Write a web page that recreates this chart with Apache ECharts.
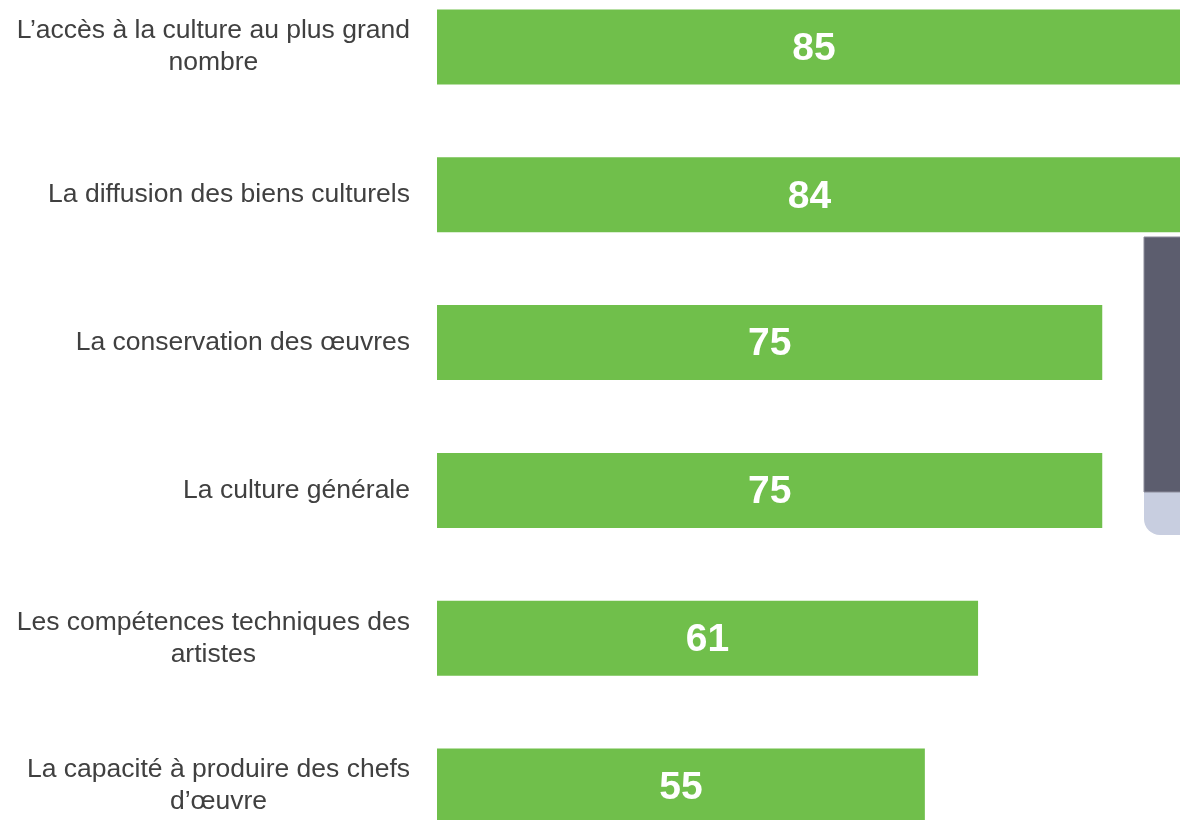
<!DOCTYPE html>
<html>
<head>
<meta charset="utf-8">
<script src="https://cdn.jsdelivr.net/npm/echarts@6/dist/echarts.min.js"></script>
<style>
  html, body { margin: 0; padding: 0; background: #fff; }
  #main { width: 1180px; height: 820px; }
</style>
</head>
<body>
<div id="main"></div>
<script>
// categories, top to bottom
var categories = [
    "L’accès à la culture au plus grand\nnombre",
    "La diffusion des biens culturels",
    "La conservation des œuvres",
    "La culture générale",
    "Les compétences techniques des\nartistes",
    "La capacité à produire des chefs\nd’œuvre"
];
var values = [85, 84, 75, 75, 61, 55];

var FONT = "'Liberation Sans', Arial, sans-serif";

var myChart = echarts.init(document.getElementById('main'));

var option = {
    backgroundColor: '#ffffff',
    animation: false,
    grid: {
        left: 437,
        top: -27,
        width: 887,
        height: 887,
        outerBoundsMode: 'none',
        containLabel: false
    },
    xAxis: {
        type: 'value',
        min: 0,
        max: 100,
        show: false
    },
    yAxis: {
        type: 'category',
        data: categories,
        inverse: true,
        axisLine: { show: false },
        axisTick: { show: false },
        splitLine: { show: false },
        axisLabel: {
            margin: 27,
            align: 'right',
            fontSize: 26.5,
            lineHeight: 32,
            color: '#404040',
            fontFamily: FONT,
            // each line centred inside the right-aligned block
            formatter: function (val) {
                return val.split('\n').map(function (l) { return '{c|' + l + '}'; }).join('\n');
            },
            rich: {
                c: {
                    align: 'center',
                    fontSize: 26.5,
                    lineHeight: 32,
                    color: '#404040',
                    fontFamily: FONT
                }
            }
        }
    },
    series: [{
        type: 'bar',
        data: values,
        barWidth: 75,
        itemStyle: { color: '#70BF4B' },
        label: {
            show: true,
            position: 'inside',
            offset: [0, 2],
            color: '#ffffff',
            fontSize: 39,
            fontWeight: 'bold',
            fontFamily: FONT
        }
    }],
    // clipped panel on the right edge
    graphic: [
        {
            type: 'rect',
            shape: { x: 1144, y: 237, width: 60, height: 298, r: [0, 0, 0, 16] },
            style: { fill: '#C8CEE0' },
            z: -1
        },
        {
            type: 'rect',
            shape: { x: 1144, y: 237, width: 60, height: 255 },
            style: { fill: '#5C5D6E', stroke: '#8a8b99', lineWidth: 1 },
            z: -1
        }
    ]
};

myChart.setOption(option);
</script>
</body>
</html>
